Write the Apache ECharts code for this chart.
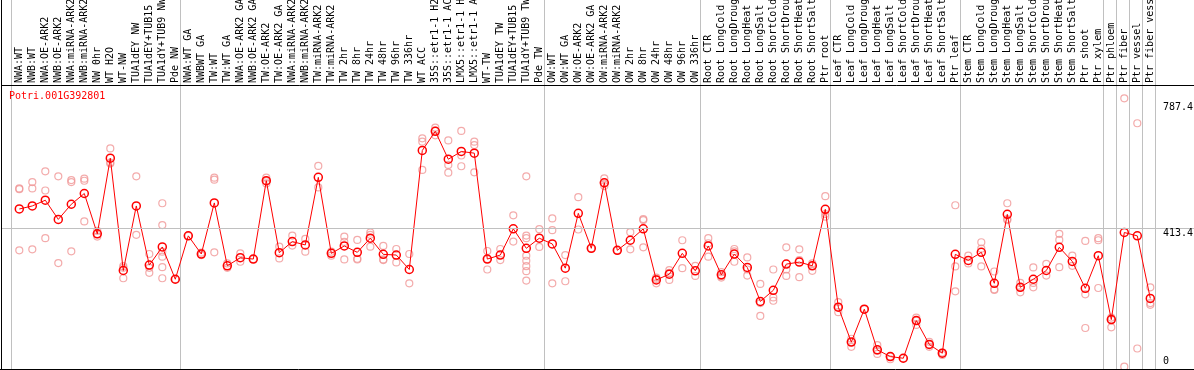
<!DOCTYPE html>
<html><head><meta charset="utf-8">
<script src="https://cdn.jsdelivr.net/npm/echarts@6/dist/echarts.min.js"></script>
<style>html,body{margin:0;padding:0;background:#fff}#c{width:1194px;height:370px}</style>
</head><body><div id="c"></div>
<script>
const chartTitle = 'Potri.001G392801';
const categories = [
 'NWA:WT','NWB:WT','NWA:OE-ARK2','NWB:OE-ARK2','NWA:miRNA-ARK2','NWB:miRNA-ARK2','NW 0hr','WT H2O','WT-NW','TUA1dEY NW','TUA1dEY+TUB15 NW','TUA1dY+TUB9 NW','Pde NW',
 'NWA:WT GA','NWBWT GA','TW:WT','TW:WT GA','NWA:OE-ARK2 GA','NWB:OE-ARK2 GA','TW:OE-ARK2','TW:OE-ARK2 GA','NWA:miRNA-ARK2 GA','NWB:miRNA-ARK2 GA','TW:miRNA-ARK2','TW:miRNA-ARK2 GA',
 'TW 2hr','TW 8hr','TW 24hr','TW 48hr','TW 96hr','TW 336hr','WT ACC','35S::etr1-1 H2O','35S::etr1-1 ACC','LMX5::etr1-1 H2O','LMX5::etr1-1 ACC','WT-TW','TUA1dEY TW','TUA1dEY+TUB15 TW','TUA1dY+TUB9 TW','Pde TW',
 'OW:WT','OW:WT GA','OW:OE-ARK2','OW:OE-ARK2 GA','OW:miRNA-ARK2','OW:miRNA-ARK2 GA','OW 2hr','OW 8hr','OW 24hr','OW 48hr','OW 96hr','OW 336hr',
 'Root CTR','Root LongCold','Root LongDrought','Root LongHeat','Root LongSalt','Root ShortCold','Root ShortDrought','Root ShortHeat','Root ShortSalt','Ptr root',
 'Leaf CTR','Leaf LongCold','Leaf LongDrought','Leaf LongHeat','Leaf LongSalt','Leaf ShortCold','Leaf ShortDrought','Leaf ShortHeat','Leaf ShortSalt','Ptr leaf',
 'Stem CTR','Stem LongCold','Stem LongDrought','Stem LongHeat','Stem LongSalt','Stem ShortCold','Stem ShortDrought','Stem ShortHeat','Stem ShortSalt','Ptr shoot','Ptr xylem',
 'Ptr phloem','Ptr fiber','Ptr vessel','Ptr fiber vessel'
];
const means = [
 470,479,496,439,484,516,396,621,287,479,303,357,261,
 390,336,488,301,325,321,554,340,373,363,564,338,360,341,383,335,333,290,644,701,618,641,636,321,333,411,353,383,
 366,294,457,353,548,347,377,411,259,276,338,286,
 360,274,336,296,195,228,306,312,301,469,
 178,74,172,51,31,26,138,67,41,335,
 317,341,249,454,237,261,287,356,314,234,331,
 141,400,390,204
];
const replicates = [
 [531,529,347],[550,531,350],[582,525,383],[567,309],[556,550,344],[560,554,433],[405,395,388],[650,608,605],[300,295,264],[567,393],[336,295,280],[487,422,343,328,297,264],[261],
 [390],[340,333],[563,557,341],[308,295],[338,313],[321],[563,553,546],[358,323],[391,361],[381,343],[598,534],[343,331],
 [388,372,320],[378,322,320],[400,393,358],[360,320,318],[351,311],[336,249],[680,670,586],[712,703,689],[674,601,578],[702,629,597],[670,660,579],[345,321,290],[351,318],[451,373],[567,391,383,331,316,300,285,257],[410,357],
 [442,407,249],[333,255],[505,409],[353],[561,545,538],[347],[401,350],[440,437,356],[266,262,249],[288,280,259],[377,294],[301,271],
 [383,368,328],[282,270,266],[351,344,313],[326,290,272],[247,190,152],[290,207,197],[356,290,271],[350,318,267],[308,301,286],[508,455,447],
 [193,178,163],[84,74,60],[172],[65,48,39],[31,23],[26],[147,138,125],[75,67,60],[43,41,36],[481,299,225],
 [331,308],[371,352,299],[284,231,229],[487,440,437],[250,237,222],[296,250,237],[307,272],[396,378,297],[331,301],[375,216,116],[383,377,235],
 [147,141,118],[799,1],[725,55],[237,190,185]
];
const groupStarts = [0,13,41,53,63,73,84,85,86,87,88];
const yTickValues = [0, 413.4, 787.4];
const refLineValue = 413.4;

// layout constants (pixels)
const W = 1194, H = 370;
const firstCenter = 19.3, step = 13;
const gridLeft = 2, gridTop = 85, plotBottom = 369;
const zeroPx = 367, refPx = 228;
const pxPerUnit = (zeroPx - refPx) / refLineValue;
const xMin = (gridLeft - firstCenter) / step, xMax = (W - firstCenter) / step;
const yMin = -(plotBottom - zeroPx) / pxPerUnit, yMax = (zeroPx - gridTop) / pxPerUnit;
const MONO = 'DejaVu Sans Mono';
const FONT = '10px "' + MONO + '"';

const repData = [];
replicates.forEach((arr, i) => arr.forEach(v => repData.push([i, v])));
const meanData = means.map((v, i) => [i, v]);

const chart = echarts.init(document.getElementById('c'), null, {renderer: 'canvas'});
chart.setOption({
  animation: false,
  backgroundColor: '#fff',
  title: {text: chartTitle, left: 9, top: 91, padding: 0,
    textStyle: {color: '#ff0000', fontSize: 10, fontFamily: MONO, fontWeight: 'normal'}},
  grid: {left: gridLeft, right: 0, top: gridTop, bottom: H - plotBottom, containLabel: false, outerBoundsMode: 'none'},
  xAxis: {
    type: 'value', position: 'top', min: xMin, max: xMax,
    axisLine: {show: true, onZero: false, lineStyle: {color: '#000', width: 1}},
    axisTick: {show: false}, splitLine: {show: false}, axisLabel: {show: false}
  },
  yAxis: {
    type: 'value', min: yMin, max: yMax,
    axisLine: {show: false}, axisTick: {show: false}, splitLine: {show: false}, axisLabel: {show: false}
  },
  series: [
    {
      type: 'scatter', data: repData, symbol: 'circle', symbolSize: 7, z: 3,
      itemStyle: {color: 'rgba(0,0,0,0)', borderColor: '#f09696', borderWidth: 1.2},
      markLine: {silent: true, symbol: 'none', label: {show: false},
        lineStyle: {color: '#c0c0c0', width: 1, type: 'solid'},
        data: [{yAxis: refLineValue}]}
    },
    {
      type: 'line', data: meanData, symbol: 'circle', symbolSize: 8, z: 4,
      lineStyle: {color: '#ff0000', width: 1},
      itemStyle: {color: 'rgba(0,0,0,0)', borderColor: '#ff0000', borderWidth: 1.5}
    }
  ]
});

// decorations and tick labels positioned through the axes
const g = [];
groupStarts.forEach(b => {
  const x = Math.round(chart.convertToPixel({xAxisIndex: 0}, b - 0.5 - 1.5 / step)) + 0.5;
  g.push({type: 'line', z: -1, shape: {x1: x, y1: 0, x2: x, y2: plotBottom}, style: {stroke: '#c0c0c0', lineWidth: 1}});
});
g.push({type: 'line', z: 10, shape: {x1: 1.5, y1: 0, x2: 1.5, y2: H}, style: {stroke: '#000', lineWidth: 1}});
g.push({type: 'line', z: 10, shape: {x1: 0, y1: plotBottom + 0.5, x2: W, y2: plotBottom + 0.5}, style: {stroke: '#000', lineWidth: 1}});
categories.forEach((c, i) => {
  const x = chart.convertToPixel({xAxisIndex: 0}, i);
  g.push({type: 'text', z: 10, x: x, y: gridTop - 2, rotation: Math.PI / 2,
    style: {text: c, fill: '#000', font: FONT, textAlign: 'left', textVerticalAlign: 'middle'}});
});
yTickValues.forEach(v => {
  const py = chart.convertToPixel({yAxisIndex: 0}, v);
  const top = Math.min(py, plotBottom - 13);
  g.push({type: 'text', z: 10, x: 1163, y: top,
    style: {text: String(v), fill: '#000', font: FONT, textAlign: 'left', textVerticalAlign: 'top'}});
});
chart.setOption({graphic: {elements: g}});
</script>
</body></html>
